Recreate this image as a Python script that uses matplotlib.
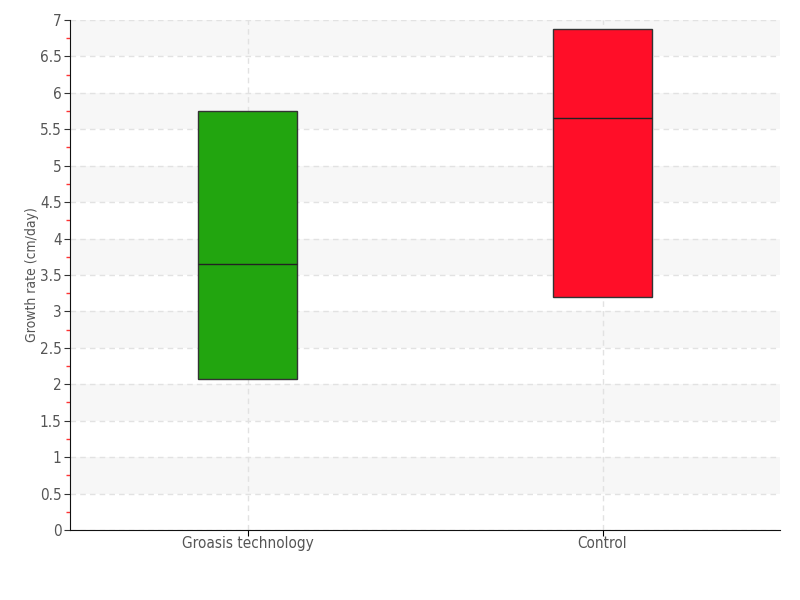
import matplotlib.pyplot as plt
import numpy as np

categories = ['Groasis technology', 'Control']
q1 = [2.07, 3.20]
median = [3.65, 5.65]
q3 = [5.75, 6.88]
colors = ['#22a50f', '#ff0e28']

plt.rcParams['font.family'] = 'DejaVu Sans'
plt.rcParams['font.stretch'] = 'condensed'

fig = plt.figure(figsize=(8, 6), dpi=100)
ax = fig.add_axes([0.0875, 0.1167, 0.8875, 0.85])

# alternating background bands
for y0 in np.arange(0.5, 7, 1.0):
    ax.axhspan(y0, y0 + 0.5, color='#f7f7f7', zorder=0, lw=0)
ax.grid(True, axis='both', color='#e2e2e2', linestyle=(0, (4, 3)), lw=1)
ax.set_axisbelow(True)

stats = []
for i, name in enumerate(categories):
    stats.append({'label': name, 'q1': q1[i], 'med': median[i], 'q3': q3[i],
                  'whislo': q1[i], 'whishi': q3[i], 'fliers': []})
bp = ax.bxp(stats, positions=[0, 1], widths=0.28, patch_artist=True,
            showcaps=False, showfliers=False,
            medianprops=dict(color='#222222', lw=1),
            whiskerprops=dict(lw=0))
for patch, c in zip(bp['boxes'], colors):
    patch.set_facecolor(c)
    patch.set_edgecolor('#333333')
    patch.set_linewidth(1)

ax.set_xlim(-0.5, 1.5)
ax.set_ylim(0, 7)
ax.set_yticks(np.arange(0, 7.01, 0.5))
ax.set_yticklabels(['0', '0.5', '1', '1.5', '2', '2.5', '3', '3.5', '4', '4.5',
                    '5', '5.5', '6', '6.5', '7'])
ax.set_yticks(np.arange(0.25, 7, 0.5), minor=True)
ax.tick_params(axis='y', which='minor', length=3, color='#ff3333', width=1)
ax.tick_params(axis='y', which='major', length=4, color='#333333', labelsize=11,
               labelcolor='#555555', pad=2)
ax.tick_params(axis='x', length=4, labelsize=11, labelcolor='#555555', pad=0)
ax.set_ylabel('Growth rate (cm/day)', fontsize=10, color='#555555')
ax.yaxis.set_label_coords(-0.043, 0.5)

for s in ['top', 'right']:
    ax.spines[s].set_visible(False)
ax.spines['left'].set_color('#111111')
ax.spines['bottom'].set_color('#111111')

fig.savefig('out.png', dpi=100)
